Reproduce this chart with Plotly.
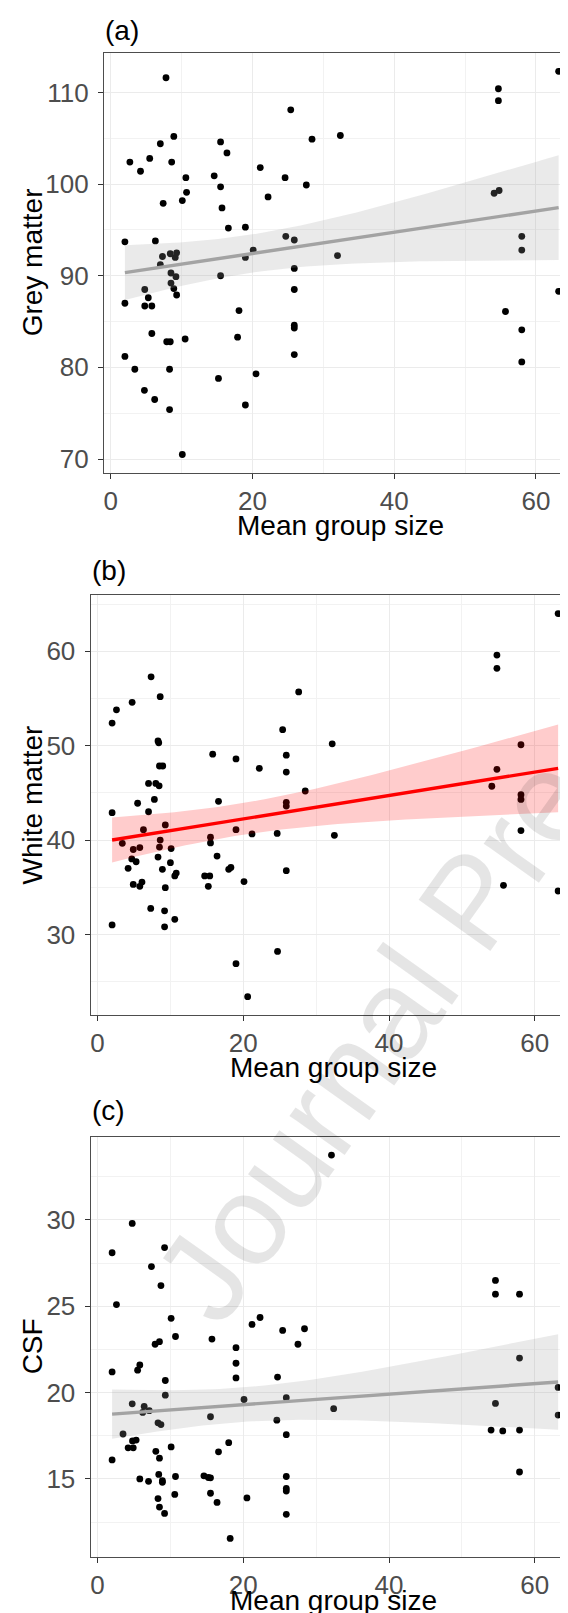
import numpy as np
import plotly.graph_objects as go

# ---------------- data ----------------
# (a) Grey matter vs mean group size
gm_x = [7.8, 63.2, 54.7, 54.7, 25.4, 7.0, 8.9, 15.5, 16.4, 28.4, 32.4, 2.7, 5.5, 4.2, 8.6, 10.6,
        14.6, 21.1, 24.6, 27.6, 10.7, 10.1, 15.5, 7.4, 15.7, 22.2, 54.1, 54.8, 16.6, 19.0, 2.0, 6.3,
        24.7, 25.9, 58.0, 58.0, 20.1, 19.0, 32.0, 7.3, 7.0, 8.4, 9.3, 9.1, 8.5, 9.2, 15.5, 25.9,
        8.5, 8.9, 9.3, 4.8, 5.3, 4.8, 5.8, 2.0, 25.9, 18.1, 55.7, 63.2, 5.8, 7.9, 8.4, 10.5, 17.9,
        25.9, 25.9, 58.0, 2.0, 25.9, 58.0, 3.4, 8.3, 20.5, 15.2, 4.75, 6.2, 8.3, 19.0, 10.1]
gm_y = [111.6, 112.3, 110.4, 109.1, 108.1, 104.4, 105.2, 104.6, 103.4, 104.9, 105.3, 102.4, 102.8,
        101.4, 102.4, 100.7, 100.9, 101.8, 100.7, 99.9, 99.1, 98.2, 99.7, 97.9, 97.4, 98.6, 99.0,
        99.3, 95.2, 95.3, 93.7, 93.8, 94.3, 93.9, 94.3, 92.8, 92.8, 92.0, 92.2, 92.1, 91.2, 92.4,
        92.5, 92.0, 90.3, 89.9, 90.0, 90.8, 89.2, 88.6, 87.9, 88.5, 87.6, 86.7, 86.7, 87.0, 88.5,
        86.2, 86.1, 88.3, 83.7, 82.8, 82.8, 83.1, 83.3, 84.6, 84.3, 84.1, 81.2, 81.4, 80.6, 79.8,
        79.8, 79.3, 78.8, 77.5, 76.5, 75.4, 75.9, 70.5]

# (b) White matter vs mean group size
wm_x = [63.2, 54.8, 54.8, 7.35, 27.6, 8.6, 4.75, 2.6, 2.0, 25.4, 8.3, 8.4, 32.2, 58.1, 15.8, 19.0,
        25.9, 25.9, 22.2, 8.5, 8.95, 54.8, 7.0, 8.0, 8.45, 54.1, 28.5, 58.1, 58.1, 7.8, 16.6, 5.5,
        25.9, 25.9, 2.0, 7.0, 9.3, 6.3, 19.0, 21.2, 24.65, 32.5, 58.1, 15.5, 15.5, 8.6, 3.4, 4.9,
        5.8, 8.5, 10.1, 8.3, 16.4, 4.7, 5.3, 10.0, 4.2, 8.9, 18.0, 18.3, 10.8, 10.6, 14.7, 15.4,
        25.9, 20.1, 4.9, 6.1, 5.8, 15.2, 9.3, 55.7, 63.2, 7.3, 9.2, 10.6, 2.0, 9.2, 24.7, 19.0, 20.6]
wm_y = [64.0, 59.6, 58.2, 57.3, 55.7, 55.2, 54.6, 53.8, 52.4, 51.7, 50.5, 50.3, 50.2, 50.1, 49.1,
        48.6, 49.0, 47.2, 47.6, 47.85, 47.85, 47.5, 46.0, 46.0, 45.75, 45.7, 45.2, 44.8, 44.3, 44.3,
        44.1, 43.9, 44.0, 43.6, 42.9, 43.0, 41.6, 41.1, 41.1, 40.65, 40.7, 40.5, 41.0, 40.3, 39.7,
        40.0, 39.65, 39.0, 39.2, 39.25, 39.1, 38.2, 38.3, 38.0, 37.7, 37.6, 37.0, 36.9, 36.9, 37.1,
        36.5, 36.2, 36.2, 36.2, 36.75, 35.6, 35.3, 35.55, 35.1, 35.1, 34.95, 35.2, 34.6, 32.75,
        32.5, 31.6, 31.0, 30.8, 28.2, 26.9, 23.4]

# (c) CSF vs mean group size
csf_x = [32.1, 4.76, 9.2, 2.0, 7.4, 8.7, 54.6, 54.6, 57.9, 2.6, 10.1, 22.3, 21.2, 10.7, 15.7, 25.4,
         28.4, 7.9, 8.5, 27.5, 19.0, 5.8, 5.5, 19.0, 2.0, 57.9, 9.3, 19.0, 24.7, 9.3, 63.2, 20.1,
         25.9, 4.76, 6.4, 6.2, 7.1, 32.4, 54.6, 15.5, 8.3, 8.7, 24.6, 63.2, 3.5, 5.3, 4.8, 25.9,
         54.0, 55.6, 57.9, 4.2, 4.9, 10.1, 18.0, 8.0, 16.6, 2.0, 8.5, 5.8, 7.0, 8.4, 8.9, 8.9, 10.7,
         14.6, 15.2, 15.5, 25.9, 57.9, 25.9, 25.9, 15.5, 10.6, 20.5, 8.3, 16.4, 8.5, 9.2, 25.9, 18.2]
csf_y = [33.76, 29.8, 28.4, 28.1, 27.3, 26.2, 26.5, 25.7, 25.7, 25.1, 24.3, 24.35, 23.95, 23.25,
         23.1, 23.6, 23.7, 22.8, 22.95, 22.8, 22.6, 21.6, 21.3, 21.7, 21.2, 22.0, 20.7, 20.85, 20.9,
         19.85, 20.3, 19.6, 19.7, 19.35, 19.2, 18.85, 18.95, 19.07, 19.37, 18.6, 18.25, 18.15, 18.4,
         18.7, 17.6, 17.25, 17.2, 17.56, 17.83, 17.78, 17.83, 16.8, 16.8, 16.85, 17.1, 16.6, 16.57,
         16.1, 16.2, 15.0, 14.86, 15.26, 14.9, 14.8, 15.14, 15.18, 15.08, 15.06, 15.14, 15.4, 14.45,
         14.3, 14.17, 14.1, 13.9, 13.86, 13.64, 13.37, 13.0, 12.95, 11.55]

panel_titles = ["(a)", "(b)", "(c)"]
y_titles = ["Grey matter", "White matter", "CSF"]
x_title = "Mean group size"
x_ticks = [0, 20, 40, 60]

FONT = "Liberation Sans, Arial, sans-serif"
W, H = 568, 1613


def lm_band(x, y, t=1.99, n=80):
    x = np.asarray(x, float)
    y = np.asarray(y, float)
    k = len(x)
    b, a = np.polyfit(x, y, 1)
    xs = np.linspace(x.min(), x.max(), n)
    yh = a + b * xs
    res = y - (a + b * x)
    s = np.sqrt(np.sum(res ** 2) / (k - 2))
    se = s * np.sqrt(1.0 / k + (xs - x.mean()) ** 2 / np.sum((x - x.mean()) ** 2))
    return xs, yh, yh - t * se, yh + t * se


panels = [
    dict(x=gm_x, y=gm_y, yr=[68.49, 114.32], ydt=10, ymin=5, ydom=[1 - 464.9 / H, 1 - 44.8 / H],
         left=96.0, line="#A3A3A3", fill="rgba(160,160,160,0.22)", ty=22.4, xty=518.0),
    dict(x=wm_x, y=wm_y, yr=[21.5, 65.95], ydt=10, ymin=5, ydom=[1 - 1006.6 / H, 1 - 587.2 / H],
         left=82.6, line="#FF0000", fill="rgba(255,0,0,0.2)", ty=562.4, xty=1059.7),
    dict(x=csf_x, y=csf_y, yr=[10.47, 34.83], ydt=5, ymin=2.5, ydom=[1 - 1549.1 / H, 1 - 1128.6 / H],
         left=82.6, line="#A3A3A3", fill="rgba(160,160,160,0.22)", ty=1102.1, xty=1592.5),
]

fig = go.Figure()
annotations = []
layout_axes = {}

for i, p in enumerate(panels):
    k = "" if i == 0 else str(i + 1)
    xa, ya = "x" + k, "y" + k
    fig.add_trace(go.Scatter(x=p["x"], y=p["y"], mode="markers", xaxis=xa, yaxis=ya,
                             marker=dict(color="black", size=6.8, line=dict(width=0)),
                             showlegend=False, hoverinfo="skip"))
    xs, yh, lo, hi = lm_band(p["x"], p["y"])
    fig.add_trace(go.Scatter(x=np.concatenate([xs, xs[::-1]]), y=np.concatenate([hi, lo[::-1]]),
                             fill="toself", fillcolor=p["fill"], line=dict(width=0), mode="lines",
                             xaxis=xa, yaxis=ya, showlegend=False, hoverinfo="skip"))
    fig.add_trace(go.Scatter(x=xs, y=yh, mode="lines", line=dict(color=p["line"], width=3.4),
                             xaxis=xa, yaxis=ya, showlegend=False, hoverinfo="skip"))

    common = dict(showgrid=True, gridcolor="#EBEBEB", gridwidth=1.2, zeroline=False,
                  showline=True, linecolor="#4D4D4D", linewidth=1.2,
                  ticks="outside", ticklen=5, tickwidth=1.1, tickcolor="#333333",
                  tickfont=dict(family=FONT, size=26, color="#4D4D4D"))
    layout_axes["xaxis" + k] = dict(common, domain=[p["left"] / W, 1.0], range=[-0.95, 65.65],
                                    tickvals=x_ticks, mirror=True, anchor=ya,
                                    minor=dict(tickvals=[10, 30, 50], showgrid=True,
                                               gridcolor="#F2F2F2", gridwidth=0.8, ticks=""))
    layout_axes["yaxis" + k] = dict(common, domain=p["ydom"], range=p["yr"], dtick=p["ydt"],
                                    tick0=0, anchor=xa, ticklabelstandoff=4,
                                    minor=dict(dtick=p["ymin"], tick0=0, showgrid=True,
                                               gridcolor="#F2F2F2", gridwidth=0.8, ticks=""))
    annotations.append(dict(text=panel_titles[i], xref="paper", yref="paper",
                            x=(p["left"] - 1) / W, y=1 - p["ty"] / H, xanchor="left", yanchor="middle",
                            showarrow=False, font=dict(family=FONT, size=28, color="black")))
    annotations.append(dict(text=x_title, xref="paper", yref="paper",
                            x=(p["left"] + W) / 2 / W, y=1 - p["xty"] / H, xanchor="center",
                            yanchor="middle", showarrow=False,
                            font=dict(family=FONT, size=28, color="black")))
    annotations.append(dict(text=y_titles[i], xref="paper", yref="paper",
                            x=24.5 / W, y=sum(p["ydom"]) / 2, xanchor="center", yanchor="middle",
                            textangle=-90, showarrow=False,
                            font=dict(family=FONT, size=28, color="black")))

# watermark
annotations.append(dict(text="Journal Pre-proof", xref="paper", yref="paper",
                        x=462 / W, y=1 - 894 / H, xanchor="center", yanchor="middle",
                        textangle=-54.5, showarrow=False,
                        font=dict(family=FONT, size=128, color="rgba(0,0,0,0.1)")))

fig.update_layout(width=W, height=H, autosize=False, margin=dict(l=0, r=0, t=0, b=0),
                  plot_bgcolor="white", paper_bgcolor="white", showlegend=False,
                  annotations=annotations, **layout_axes)

fig.write_html("out.html")
